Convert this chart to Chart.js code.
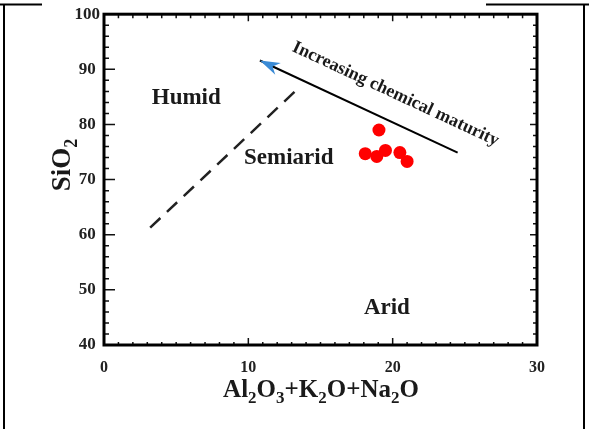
<!DOCTYPE html>
<html>
<head>
<meta charset="utf-8">
<script src="https://cdn.jsdelivr.net/npm/chart.js@4.4.1/dist/chart.umd.min.js"></script>
<style>
  html, body { margin: 0; padding: 0; background: #fff; }
  #wrap { width: 589px; height: 429px; }
</style>
</head>
<body>
<div id="wrap"><canvas id="plot" width="589" height="429"></canvas></div>
<script>
// sample compositions (wt%)
const sampleX = [18.1, 18.9, 19.5, 19.05, 20.5, 21.0];
const sampleY = [74.7, 74.2, 75.3, 79.0, 74.9, 73.3];

// humid / semiarid boundary (dashed)
const boundaryX = [3.2, 13.4];
const boundaryY = [61.3, 86.4];

// maturity trend arrow: tail first, tip last
const trendX = [24.5, 10.8];
const trendY = [74.9, 91.6];

// climate field names
const regionNames = ['Humid', 'Semiarid', 'Arid'];
const regionX = [5.7, 12.8, 19.6];
const regionY = [83.7, 72.8, 45.7];

const trendLabel = 'Increasing chemical maturity';
const trendLabelX = 20.2;
const trendLabelY = 85.5;

const xMin = 0, xMax = 30, xStep = 10;
const yMin = 40, yMax = 100, yStep = 10;

const serif = "'Liberation Serif', 'Times New Roman', serif";

function toPoints(xs, ys) {
    return xs.map((x, i) => ({ x: x, y: ys[i] }));
}

// draws a string with digit subscripts, e.g. Al2O3
function drawFormula(ctx, text, x, y, size) {
    const parts = [];
    for (const ch of text) {
        const sub = /[0-9]/.test(ch);
        const last = parts[parts.length - 1];
        if (last && last.sub === sub) last.t += ch;
        else parts.push({ t: ch, sub: sub });
    }
    const big = 'bold ' + size + 'px ' + serif;
    const small = 'bold ' + Math.round(size * 0.68) + 'px ' + serif;
    let total = 0;
    parts.forEach(p => {
        ctx.font = p.sub ? small : big;
        p.w = ctx.measureText(p.t).width;
        total += p.w;
    });
    let cx = x - total / 2;
    ctx.textAlign = 'left';
    ctx.textBaseline = 'alphabetic';
    parts.forEach(p => {
        ctx.font = p.sub ? small : big;
        ctx.fillText(p.t, cx, p.sub ? y + size * 0.25 : y);
        cx += p.w;
    });
}

const framePlugin = {
    id: 'frame',
    beforeDraw(chart) {
        const ctx = chart.ctx;
        ctx.save();
        ctx.strokeStyle = '#000';
        ctx.lineWidth = 2;
        ctx.beginPath();
        ctx.moveTo(0, 4.5); ctx.lineTo(42, 4.5);
        ctx.moveTo(486, 4.5); ctx.lineTo(589, 4.5);
        ctx.moveTo(4, 4); ctx.lineTo(4, 429);
        ctx.moveTo(584, 4); ctx.lineTo(584, 429);
        ctx.stroke();
        ctx.restore();
    },
    afterDatasetsDraw(chart) {
        const ctx = chart.ctx;
        const a = chart.chartArea;
        const xs = chart.scales.x, ys = chart.scales.y;
        ctx.save();

        // inward tick marks on all four sides
        ctx.strokeStyle = '#111';
        ctx.lineWidth = 1.5;
        ctx.beginPath();
        for (let v = yMin; v <= yMax; v += 2) {
            const py = ys.getPixelForValue(v);
            const major = v % yStep === 0;
            ctx.moveTo(a.left, py); ctx.lineTo(a.left + (major ? 11 : 5), py);
            ctx.moveTo(a.right, py); ctx.lineTo(a.right - (major ? 7 : 4), py);
        }
        for (let v = xMin; v <= xMax; v += 1) {
            const px = xs.getPixelForValue(v);
            const major = v % xStep === 0;
            ctx.moveTo(px, a.bottom); ctx.lineTo(px, a.bottom - (major ? 7 : 3));
            ctx.moveTo(px, a.top); ctx.lineTo(px, a.top + (major ? 7 : 4));
        }
        ctx.stroke();

        // heavy plot border
        ctx.lineWidth = 3;
        ctx.strokeStyle = '#000';
        ctx.strokeRect(a.left, a.top, a.right - a.left, a.bottom - a.top);

        // blue arrowhead at the end of the trend line
        const n = trendX.length - 1;
        const tx = xs.getPixelForValue(trendX[n]), ty = ys.getPixelForValue(trendY[n]);
        const bx = xs.getPixelForValue(trendX[0]), by = ys.getPixelForValue(trendY[0]);
        const ang = Math.atan2(ty - by, tx - bx);
        const len = 20, half = 6.5;
        ctx.fillStyle = '#3a8bd6';
        ctx.beginPath();
        ctx.moveTo(tx, ty);
        ctx.lineTo(tx - len * Math.cos(ang) + half * Math.sin(ang), ty - len * Math.sin(ang) - half * Math.cos(ang));
        ctx.lineTo(tx - len * 0.7 * Math.cos(ang), ty - len * 0.7 * Math.sin(ang));
        ctx.lineTo(tx - len * Math.cos(ang) - half * Math.sin(ang), ty - len * Math.sin(ang) + half * Math.cos(ang));
        ctx.closePath();
        ctx.fill();

        // field names
        ctx.fillStyle = '#1a1a1a';
        ctx.font = 'bold 23px ' + serif;
        ctx.textAlign = 'center';
        ctx.textBaseline = 'alphabetic';
        regionNames.forEach((name, i) => {
            ctx.fillText(name, xs.getPixelForValue(regionX[i]), ys.getPixelForValue(regionY[i]));
        });

        // label running along the trend arrow
        ctx.save();
        ctx.translate(xs.getPixelForValue(trendLabelX), ys.getPixelForValue(trendLabelY));
        ctx.rotate(Math.atan2(by - ty, bx - tx));
        ctx.font = 'bold 18px ' + serif;
        ctx.textBaseline = 'middle';
        ctx.fillText(trendLabel, 0, 0);
        ctx.restore();

        // axis titles with subscripts
        drawFormula(ctx, 'Al2O3+K2O+Na2O', (a.left + a.right) / 2 + 0.5, 397, 25);
        ctx.save();
        ctx.translate(70, 165);
        ctx.rotate(-Math.PI / 2);
        drawFormula(ctx, 'SiO2', 0, 0, 27);
        ctx.restore();

        ctx.restore();
    }
};

new Chart(document.getElementById('plot'), {
    type: 'scatter',
    data: {
        datasets: [
            {
                label: 'boundary',
                data: toPoints(boundaryX, boundaryY),
                showLine: true,
                borderColor: '#222',
                borderWidth: 2.5,
                borderDash: [14, 9],
                pointRadius: 0
            },
            {
                label: 'trend',
                data: toPoints(trendX, trendY),
                showLine: true,
                borderColor: '#000',
                borderWidth: 2,
                pointRadius: 0
            },
            {
                label: 'samples',
                data: toPoints(sampleX, sampleY),
                backgroundColor: '#ff0000',
                borderWidth: 0,
                pointRadius: 6.5
            }
        ]
    },
    options: {
        responsive: false,
        animation: false,
        layout: { padding: { top: 10, right: 52, left: 0, bottom: 0 } },
        plugins: { legend: { display: false }, tooltip: { enabled: false } },
        scales: {
            x: {
                type: 'linear',
                min: xMin, max: xMax,
                grid: { display: false, drawTicks: false },
                border: { display: false },
                ticks: {
                    stepSize: xStep,
                    padding: 13,
                    color: '#222',
                    font: { family: serif, size: 16, weight: 'bold' }
                },
                afterFit(scale) { scale.height = 84; }
            },
            y: {
                type: 'linear',
                min: yMin, max: yMax,
                grid: { display: false, drawTicks: false },
                border: { display: false },
                ticks: {
                    stepSize: yStep,
                    padding: 4,
                    crossAlign: 'center',
                    color: '#222',
                    font: { family: serif, size: 17, weight: 'bold' }
                },
                afterFit(scale) { scale.width = 104; }
            }
        }
    },
    plugins: [framePlugin]
});
</script>
</body>
</html>
